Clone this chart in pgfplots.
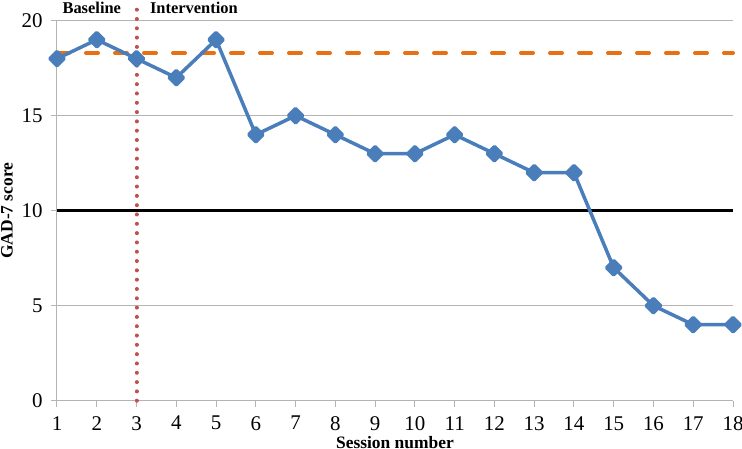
\documentclass[border=0pt]{standalone}
\usepackage{pgfplots}
\pgfplotsset{compat=1.18}
\usepackage{fontspec}
\setmainfont{Liberation Serif}
\definecolor{serblue}{RGB}{74,126,187}
\definecolor{meanorange}{RGB}{232,112,20}
\definecolor{phasered}{RGB}{192,80,77}
\definecolor{gridgray}{RGB}{180,180,180}

\begin{document}
\begin{tikzpicture}
	\begin{axis}[%
		name=ax,
		scale only axis,
		width=676bp,
		height=380bp,
		xmin=1,xmax=18,
		ymin=0,ymax=20,
		xtick={1,...,18},
		ytick={0,5,...,20},
		axis lines*=left,
		axis line style={gridgray,line width=1bp,-},
		ymajorgrids,
		grid style={gridgray,line width=1bp},
		tick style={gridgray,line width=1bp},
		tick align=outside,
		major tick length=6bp,
		x tick label style={yshift=-6bp},
		y tick label style={xshift=-5bp},
		tick label style={font=\fontsize{21}{21}\selectfont},
		/pgf/number format/assume math mode=true,
		xlabel={\textbf{Session number}},
		ylabel={\textbf{GAD-7 score}},
		label style={font=\fontsize{17.5}{17.5}\selectfont},
		xlabel style={yshift=1bp},
		ylabel style={yshift=2bp},
		clip=false,
		]
		% clinical cut-off
		\addplot[black, line width=3bp] coordinates {(1,10) (18,10)};
		% baseline mean
		\addplot[meanorange, line width=4bp, line cap=round, dash pattern=on 12bp off 17bp] coordinates {(1,18.3) (18,18.3)};
		% phase change
		\addplot[phasered, line width=4bp, line cap=round, dash pattern=on 0.01bp off 9.3bp] coordinates {(3,0) (3,21.05)};
		% scores
		\addplot[serblue, line width=3.5bp, line join=round, mark=square*, mark size=5bp, mark options={rotate=45, solid, fill=serblue}] coordinates {
			(1,18) (2,19) (3,18) (4,17) (5,19) (6,14) (7,15) (8,14) (9,13)
			(10,13) (11,14) (12,13) (13,12) (14,12) (15,7) (16,5) (17,4) (18,4)};
		\node[anchor=base east, font=\fontsize{16.5}{16.5}\selectfont\bfseries] at (axis cs:3,20.4) [xshift=-12bp] {Baseline};
		\node[anchor=base west, font=\fontsize{16.5}{16.5}\selectfont\bfseries] at (axis cs:3,20.4) [xshift=10bp] {Intervention};
	\end{axis}
	\pgfresetboundingbox
	\path[use as bounding box] ([xshift=-57bp,yshift=-48.3bp]ax.south west) rectangle ([xshift=9bp,yshift=20.7bp]ax.north east);
\end{tikzpicture}
\end{document}
